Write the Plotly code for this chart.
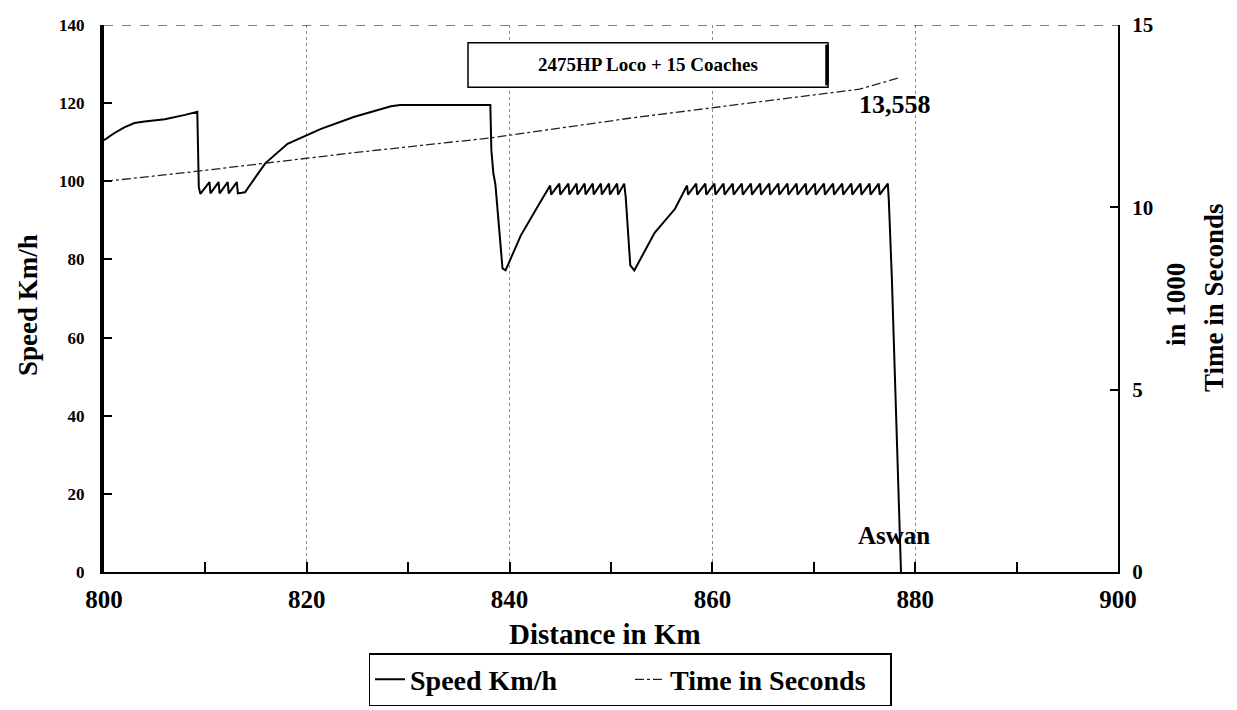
import plotly.graph_objects as go

# ---------------- data ----------------
# Speed profile, in pieces (km, km/h)
segA_km = [800.0, 801.0, 802.0, 803.0, 804.0, 806.0, 808.0, 809.2]
segA_sp = [110.5, 112.3, 113.8, 114.9, 115.3, 115.9, 117.0, 117.8]

segB_km = [809.35, 809.5, 810.4, 810.5, 811.3, 811.4, 812.2, 812.3, 813.1, 813.2, 813.9]
segB_sp = [98.5, 96.8, 99.8, 96.9, 99.8, 96.9, 99.8, 96.9, 99.8, 96.9, 97.2]

segC_km = [815.9, 818.1, 821.4, 824.7, 828.3, 829.2, 838.1]
segC_sp = [104.6, 109.6, 113.4, 116.5, 119.2, 119.5, 119.5]

segD_km = [838.2, 838.4, 838.6, 839.0, 839.3, 839.6]
segD_sp = [108.0, 102.0, 99.2, 86.0, 77.7, 77.2]

segE_km = [841.1, 842.8, 844.0]
segE_sp = [86.1, 93.7, 98.9]

segF_km = [844.1, 844.9, 845.0, 845.8, 845.9, 846.6, 846.7, 847.4, 847.5, 848.2,
           848.3, 849.0, 849.1, 849.8, 849.9, 850.6, 850.7, 851.3]
segF_sp = [96.6, 99.4, 96.6, 99.4, 96.6, 99.4, 96.6, 99.4, 96.6, 99.4,
           96.6, 99.4, 96.6, 99.4, 96.6, 99.4, 96.6, 99.4]

segG_km = [851.45, 851.6, 851.9, 852.3]
segG_sp = [96.0, 90.0, 78.5, 77.2]

segH_km = [854.3, 856.3, 857.5]
segH_sp = [86.8, 92.9, 98.9]

segI_km = [857.6, 858.4, 858.5, 859.3, 859.4, 860.2, 860.3, 861.1, 861.2, 862.0,
           862.1, 862.9, 863.0, 863.8, 863.9, 864.7, 864.8, 865.6, 865.7, 866.5,
           866.6, 867.4, 867.5, 868.3, 868.4, 869.2, 869.3, 870.1, 870.2, 871.0,
           871.1, 871.9, 872.0, 872.8, 872.9, 873.7, 873.8, 874.6, 874.7, 875.5,
           875.6, 876.4, 876.5, 877.3]
segI_sp = [96.6, 99.4, 96.6, 99.4, 96.6, 99.4, 96.6, 99.4, 96.6, 99.4,
           96.6, 99.4, 96.6, 99.4, 96.6, 99.4, 96.6, 99.4, 96.6, 99.4,
           96.6, 99.4, 96.6, 99.4, 96.6, 99.4, 96.6, 99.4, 96.6, 99.4,
           96.6, 99.4, 96.6, 99.4, 96.6, 99.4, 96.6, 99.4, 96.6, 99.4,
           96.6, 99.4, 96.6, 99.4]

segJ_km = [877.4, 877.7, 878.0, 878.3, 878.6]
segJ_sp = [95.0, 75.0, 50.0, 25.0, 0.0]

# Cumulative time (thousands of seconds)
time_km = [800.0, 808.3, 824.7, 838.0, 852.0, 874.5, 878.5]
time_k = [10.71, 10.96, 11.50, 11.90, 12.45, 13.24, 13.558]

x_ticks = [800, 820, 840, 860, 880, 900]
y_ticks = [0, 20, 40, 60, 80, 100, 120, 140]
y2_ticks = [0, 5, 10, 15]

# ---------------- figure ----------------
speed_km = (segA_km + segB_km + segC_km + segD_km + segE_km + segF_km
            + segG_km + segH_km + segI_km + segJ_km)
speed_sp = (segA_sp + segB_sp + segC_sp + segD_sp + segE_sp + segF_sp
            + segG_sp + segH_sp + segI_sp + segJ_sp)

SERIF = "Liberation Serif"
L, R, T, B = 96, 1110, 17, 570
PW, PH = R - L, B - T


def px(x):
    return (x - L) / PW


def py(y):
    return (B - y) / PH


fig = go.Figure()
fig.add_trace(go.Scatter(
    x=speed_km, y=speed_sp, mode="lines", name="Speed Km/h",
    line=dict(color="black", width=2), yaxis="y"))
fig.add_trace(go.Scatter(
    x=time_km, y=time_k, mode="lines", name="Time in Seconds",
    line=dict(color="#222222", width=1.3, dash="dashdot"), yaxis="y2"))

fig.update_layout(
    template="none",
    width=1237, height=710,
    margin=dict(l=L, r=1237 - R, t=T, b=710 - B),
    paper_bgcolor="white", plot_bgcolor="white",
    font=dict(family=SERIF, color="black"),
    showlegend=True,
    legend=dict(
        orientation="h", x=px(622), xanchor="center", y=py(652), yanchor="top",
        font=dict(family=SERIF, size=28, color="black", weight="bold"),
        bordercolor="black", borderwidth=1.5, bgcolor="white",
        entrywidth=215, itemwidth=30, tracegroupgap=0,
    ),
    xaxis=dict(
        range=[800, 900], tickvals=x_ticks, ticks="inside", ticklen=10,
        tickcolor="black", tickwidth=1.5,
        minor=dict(dtick=10, ticks="inside", ticklen=10, tickcolor="black", showgrid=False),
        showline=True, linecolor="black", linewidth=2,
        showgrid=True, gridcolor="#8a8a8a", griddash="dot", gridwidth=1,
        zeroline=False, automargin=False,
        tickfont=dict(family=SERIF, size=25, color="black", weight="bold"),
        ticklabelstandoff=4,
    ),
    yaxis=dict(
        range=[0, 140], tickvals=y_ticks, ticks="inside", ticklen=8,
        tickcolor="black", tickwidth=1.5,
        showline=True, linecolor="black", linewidth=4,
        showgrid=False, zeroline=False, automargin=False,
        tickfont=dict(family=SERIF, size=17, color="black", weight="bold"),
        ticklabelstandoff=12,
    ),
    yaxis2=dict(
        range=[0, 15], tickvals=y2_ticks, overlaying="y", side="right",
        ticks="inside", ticklen=8, tickcolor="black", tickwidth=1.5,
        showline=True, linecolor="black", linewidth=2,
        showgrid=False, zeroline=False, automargin=False,
        tickfont=dict(family=SERIF, size=21, color="black", weight="bold"),
        ticklabelstandoff=8,
    ),
)

# dashed top border
fig.add_shape(type="line", xref="x", yref="y", x0=800, x1=900, y0=140, y1=140,
              line=dict(color="black", width=1.2, dash="dash"))

# box label
fig.add_shape(type="rect", xref="paper", yref="paper",
              x0=px(460), x1=px(820), y0=py(80), y1=py(35),
              line=dict(color="black", width=1.5), fillcolor="white", layer="above")
fig.add_shape(type="line", xref="paper", yref="paper",
              x0=px(819), x1=px(819), y0=py(78), y1=py(37),
              line=dict(color="black", width=3.5), layer="above")


def note(text, x, y, size, angle=0):
    return dict(text=text, xref="paper", yref="paper", x=px(x), y=py(y),
                xanchor="center", yanchor="middle", showarrow=False, textangle=angle,
                font=dict(family=SERIF, size=size, color="black"))


ann = [
    note("<b>2475HP Loco + 15 Coaches</b>", 640, 57, 19),
    note("<b>13,558</b>", 887, 97, 26),
    note("<b>Aswan</b>", 886, 533, 25),
    note("<b>Speed Km/h</b>", 20, 300, 27, -90),
    note("<b>Distance in Km</b>", 597, 633, 29),
    note("<b>in 1000</b>", 1168, 300, 27, -90),
    note("<b>Time in Seconds</b>", 1206, 293, 27, -90),
]
fig.update_layout(annotations=ann)

fig.write_html("out.html")
